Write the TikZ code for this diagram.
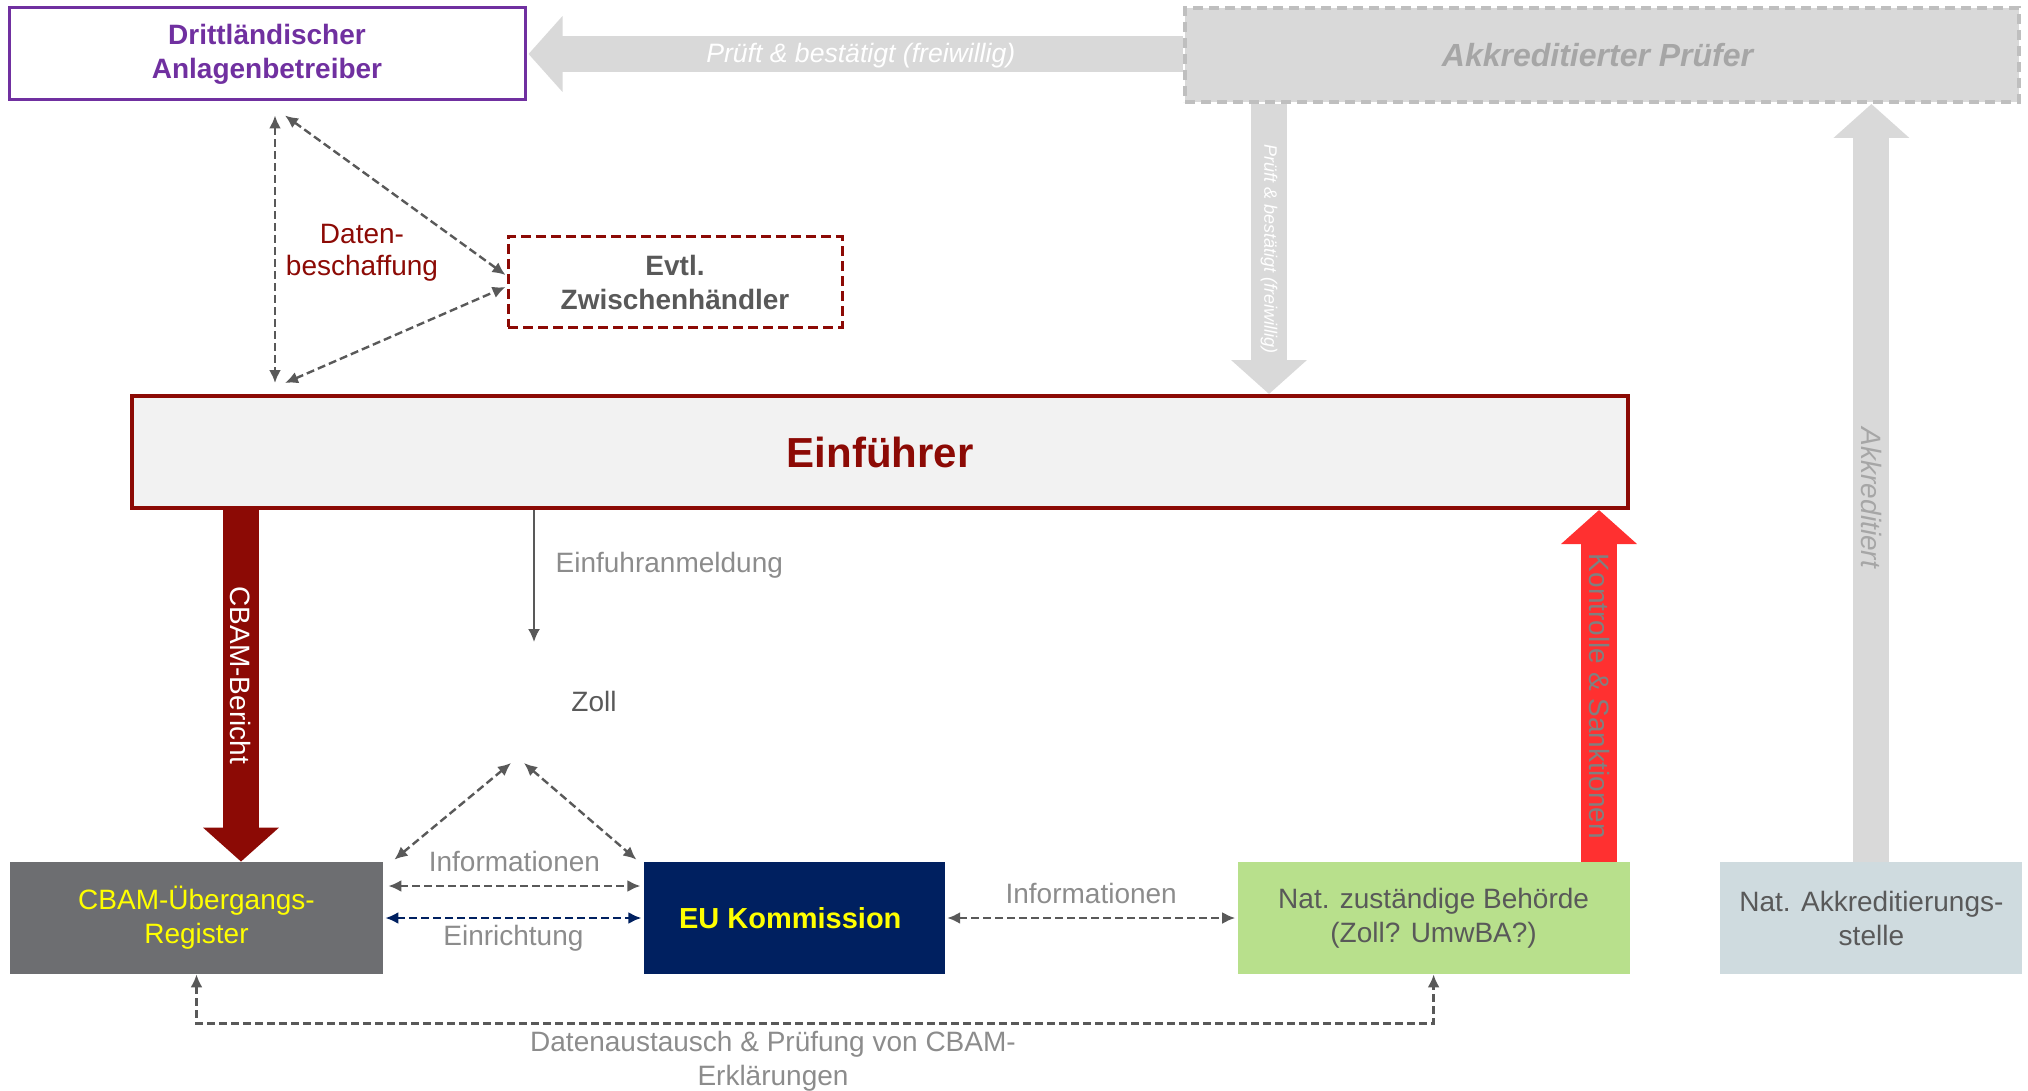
\documentclass[tikz,border=0pt]{standalone}
\usepackage{fontspec}
\setmainfont{Liberation Sans}
\usepackage{tikz}
\usetikzlibrary{arrows, arrows.meta, positioning}

\definecolor{lila}{HTML}{7030A0}
\definecolor{dunkelrot}{HTML}{8C0A05}
\definecolor{hellrot}{HTML}{FF3030}
\definecolor{hellgrau}{HTML}{D9D9D9}
\definecolor{randgrau}{HTML}{BFBFBF}
\definecolor{pruefgrau}{HTML}{A6A6A6}
\definecolor{textgrau}{HTML}{595959}
\definecolor{labelgrau}{HTML}{8C8C8C}
\definecolor{regfarbe}{HTML}{6D6E71}
\definecolor{eublau}{HTML}{002060}
\definecolor{gruen}{HTML}{B8E08C}
\definecolor{blaugrau}{HTML}{CFDBDF}
\definecolor{gelb}{HTML}{FFFF00}

\tikzset{
	box/.style={rectangle, inner sep=0pt, align=center, font=\fontsize{14}{17}\selectfont},
	info/.style={draw=textgrau, line width=1.2pt, dash pattern=on 4pt off 2pt, {Latex[length=6.5pt, width=6pt]}-{Latex[length=6.5pt, width=6pt]}},
	blockpfeil/.style={line width=18pt, -{Triangle[length=17pt 0 0, width=37pt 0 0]}},
	pfeiltext/.style={font=\fontsize{14}{17}\selectfont, rotate=-90},
	beschriftung/.style={text=labelgrau, font=\fontsize{14}{17}\selectfont}
}

\begin{document}
\begin{tikzpicture}[x=0.5pt, y=-0.5pt]

\useasboundingbox (0,0) rectangle (2028,1091);

\node [box, draw=lila, line width=1.5pt, minimum width=258pt, minimum height=46pt, text=lila, font=\fontsize{14}{17}\selectfont\bfseries] (drit) at (267,54) {
	Drittländischer \\
	Anlagenbetreiber
};

\node [box, draw=randgrau, fill=hellgrau, line width=2pt, dash pattern=on 5pt off 3pt, minimum width=417pt, minimum height=47pt, text=pruefgrau, font=\fontsize{16}{19}\selectfont\bfseries\itshape] (pruef) at (1602,55) {
	Akkreditierter Prüfer
};

\node [box, draw=dunkelrot, line width=1.5pt, dash pattern=on 5pt off 2.5pt, minimum width=167pt, minimum height=45pt, text=textgrau, font=\fontsize{14}{17}\selectfont\bfseries] (zwisch) at (675,282) {
	Evtl. \\
	Zwischenhändler
};

\node [box, draw=dunkelrot, fill=black!5, line width=2pt, minimum width=748pt, minimum height=56pt, text=dunkelrot, font=\fontsize{21}{25}\selectfont\bfseries] (einf) at (880,452) {
	\hspace*{6pt}Einführer
};

\node [box, fill=regfarbe, minimum width=186.5pt, minimum height=56pt, text=gelb] (reg) at (196.5,918) {
	CBAM-Übergangs- \\
	Register
};

\node [box, fill=eublau, minimum width=150.5pt, minimum height=56pt, text=gelb, font=\fontsize{14.5}{17}\selectfont\bfseries, right=130pt of reg] (eu) {
	EU Kommission
};

\node [box, fill=gruen, minimum width=196pt, minimum height=56pt, text=textgrau, right=146pt of eu] (beh) {
	Nat. zuständige Behörde \\
	(Zoll? UmwBA?)
};

\node [box, fill=blaugrau, minimum width=151pt, minimum height=56pt, text=textgrau, right=45pt of beh] (akk) {
	Nat. Akkreditierungs- \\
	stelle
};

\node [text=textgrau, font=\fontsize{14}{17}\selectfont] (zoll) at (594,701) {Zoll};

\node [text=dunkelrot, align=center, font=\fontsize{14}{16}\selectfont] (daten) at (362,253) {
	Daten- \\
	beschaffung
};

% breite Pfeile
\path [draw=hellgrau, blockpfeil, shorten >=1pt] (pruef.west |- drit.east) -- node [text=white, yshift=-1pt, xshift=3pt, font=\fontsize{13.3}{15}\selectfont\itshape] {Prüft \& bestätigt (freiwillig)} (drit.east);

\coordinate (p1) at ([shift={(86,0)}]pruef.south west);
\path [draw=hellgrau, blockpfeil] (p1) -- node [pfeiltext, text=white, font=\fontsize{9}{11}\selectfont\itshape] {Prüft \& bestätigt (freiwillig)} (p1 |- einf.north);

\path [draw=hellgrau, blockpfeil] (akk.north) -- node [pfeiltext, pos=0.48, text=pruefgrau, font=\fontsize{14}{17}\selectfont\itshape] {Akkreditiert} (akk.north |- pruef.south);

\coordinate (cb) at ([shift={(111,0)}]einf.south west);
\path [draw=dunkelrot, blockpfeil] (cb) -- node [pfeiltext, pos=0.47, text=white] {CBAM-Bericht} (cb |- reg.north);

\coordinate (ks) at ([shift={(-31,0)}]beh.north east);
\path [draw=hellrot, blockpfeil] (ks) -- node [pfeiltext, pos=0.47, text=black!50] {Kontrolle \& Sanktionen} (ks |- einf.south);

% Einfuhranmeldung
\coordinate (ea) at ([shift={(404,0)}]einf.south west);
\coordinate (eb) at ([shift={(0,132)}]ea);
\path [draw=textgrau, line width=1pt, -{Latex[length=6.5pt, width=6pt]}] (ea) -- node [right, beschriftung, pos=0.42, xshift=7pt] {Einfuhranmeldung} (eb);

% Datenbeschaffung
\coordinate (dt) at ([shift={(8,14)}]drit.south);
\coordinate (db) at (dt |- einf.north);
\path [info] (dt) -- ([shift={(0,-11)}]db);
\path [info] ([shift={(10,0)}]dt) -- ([shift={(-1,-7)}]zwisch.west);
\path [info] ([shift={(10,-11)}]db) -- ([shift={(-1,5)}]zwisch.west);

% Zoll
\coordinate (zl) at (511,763);
\coordinate (zr) at (524,763);
\path [info] (zl) -- ([shift={(11,-2)}]reg.north east);
\path [info] (zr) -- ([shift={(-7,-2)}]eu.north west);

% Informationen
\path [info] ([shift={(5,-32)}]reg.east) -- node [above, beschriftung, yshift=3pt] {Informationen} ([shift={(-3,-32)}]eu.west);
\path [info, draw=eublau] ([shift={(2,0)}]reg.east) -- node [below, beschriftung, inner sep=1pt, yshift=-2pt] {Einrichtung} ([shift={(-2,0)}]eu.west);
\path [info] ([shift={(2,0)}]eu.east) -- node [above, beschriftung, yshift=3pt] {Informationen} ([shift={(-2,0)}]beh.west);

\path [info] (reg.south) -- ++(0,49) -| node [pos=0.233, below, beschriftung, align=center] {Datenaustausch \& Prüfung von CBAM- \\ Erklärungen} (beh.south);

\end{tikzpicture}
\end{document}
